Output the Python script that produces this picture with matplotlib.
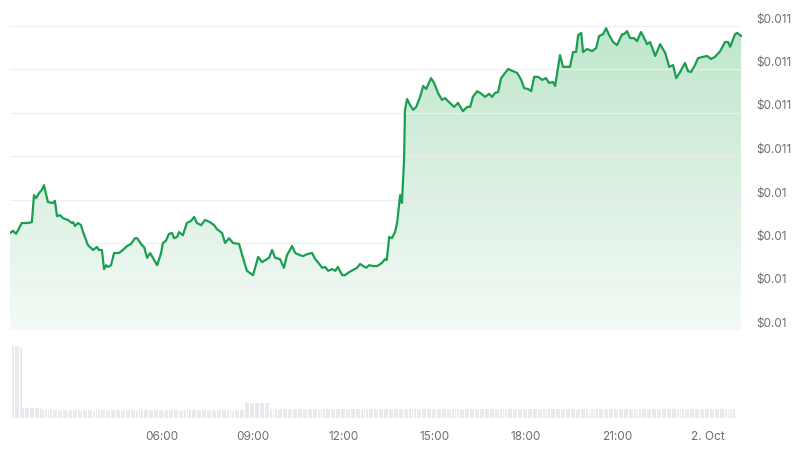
import numpy as np
import matplotlib
matplotlib.use("Agg")
import matplotlib.pyplot as plt
from matplotlib.colors import LinearSegmentedColormap

plt.rcParams['font.family'] = ['Inter', 'DejaVu Sans']

# price trace, hours since midnight of 1 Oct
hours = [0.99, 1.09, 1.19, 1.38, 1.58, 1.71, 1.78, 1.85, 1.95, 2.04,
         2.11, 2.24, 2.41, 2.47, 2.54, 2.64, 2.74, 2.90, 3.03, 3.07,
         3.13, 3.23, 3.33, 3.40, 3.56, 3.73, 3.86, 3.92, 4.02, 4.09,
         4.16, 4.22, 4.32, 4.42, 4.58, 4.71, 4.85, 4.98, 5.11, 5.18,
         5.34, 5.41, 5.51, 5.61, 5.74, 5.84, 5.97, 6.03, 6.13, 6.23,
         6.33, 6.40, 6.50, 6.56, 6.69, 6.82, 6.96, 7.06, 7.15, 7.29,
         7.42, 7.58, 7.72, 7.81, 7.98, 8.08, 8.21, 8.34, 8.54, 8.67,
         8.80, 9.00, 9.17, 9.30, 9.46, 9.53, 9.63, 9.73, 9.89, 10.02,
         10.12, 10.29, 10.39, 10.55, 10.65, 10.81, 10.95, 11.05, 11.14, 11.28,
         11.38, 11.48, 11.61, 11.71, 11.80, 11.94, 12.03, 12.17, 12.30, 12.43,
         12.53, 12.63, 12.73, 12.83, 12.96, 13.09, 13.25, 13.35, 13.41, 13.49,
         13.58, 13.68, 13.75, 13.85, 13.91, 13.98, 14.01, 14.08, 14.18, 14.28,
         14.38, 14.51, 14.61, 14.71, 14.87, 14.97, 15.10, 15.23, 15.33, 15.46,
         15.63, 15.76, 15.92, 16.06, 16.16, 16.25, 16.39, 16.49, 16.65, 16.78,
         16.88, 16.98, 17.08, 17.18, 17.31, 17.41, 17.57, 17.71, 17.84, 17.94,
         18.07, 18.17, 18.27, 18.40, 18.53, 18.66, 18.76, 18.89, 18.96, 19.12,
         19.22, 19.35, 19.45, 19.55, 19.65, 19.72, 19.82, 19.88, 20.01, 20.18,
         20.31, 20.41, 20.54, 20.64, 20.74, 20.87, 21.00, 21.17, 21.23, 21.33,
         21.43, 21.56, 21.66, 21.79, 21.86, 21.99, 22.09, 22.26, 22.42, 22.59,
         22.72, 22.85, 22.95, 23.08, 23.24, 23.34, 23.44, 23.57, 23.67, 23.84,
         23.97, 24.10, 24.23, 24.40, 24.56, 24.66, 24.73, 24.89, 24.96, 25.09]

prices = [0.010323, 0.010328, 0.010321, 0.010346, 0.010346, 0.010348, 0.010410, 0.010403, 0.010415, 0.010422,
          0.010433, 0.010394, 0.010392, 0.010397, 0.010362, 0.010364, 0.010357, 0.010353, 0.010346, 0.010348,
          0.010339, 0.010346, 0.010341, 0.010325, 0.010295, 0.010284, 0.010291, 0.010284, 0.010284, 0.010240,
          0.010249, 0.010245, 0.010249, 0.010277, 0.010277, 0.010284, 0.010293, 0.010298, 0.010311, 0.010311,
          0.010295, 0.010291, 0.010266, 0.010277, 0.010261, 0.010249, 0.010277, 0.010300, 0.010305, 0.010321,
          0.010323, 0.010311, 0.010314, 0.010325, 0.010318, 0.010346, 0.010351, 0.010360, 0.010346, 0.010341,
          0.010353, 0.010348, 0.010341, 0.010332, 0.010323, 0.010300, 0.010311, 0.010300, 0.010298, 0.010266,
          0.010236, 0.010226, 0.010268, 0.010256, 0.010263, 0.010266, 0.010284, 0.010266, 0.010263, 0.010243,
          0.010272, 0.010293, 0.010277, 0.010272, 0.010270, 0.010275, 0.010277, 0.010263, 0.010256, 0.010243,
          0.010245, 0.010236, 0.010240, 0.010236, 0.010245, 0.010226, 0.010226, 0.010233, 0.010238, 0.010243,
          0.010252, 0.010247, 0.010243, 0.010249, 0.010247, 0.010247, 0.010254, 0.010263, 0.010261, 0.010314,
          0.010311, 0.010325, 0.010346, 0.010410, 0.010392, 0.010491, 0.010606, 0.010631, 0.010617, 0.010606,
          0.010613, 0.010636, 0.010661, 0.010654, 0.010679, 0.010668, 0.010645, 0.010629, 0.010633, 0.010624,
          0.010613, 0.010622, 0.010603, 0.010613, 0.010613, 0.010636, 0.010649, 0.010645, 0.010636, 0.010643,
          0.010636, 0.010645, 0.010647, 0.010679, 0.010691, 0.010700, 0.010695, 0.010691, 0.010675, 0.010656,
          0.010654, 0.010649, 0.010682, 0.010682, 0.010675, 0.010679, 0.010668, 0.010670, 0.010661, 0.010732,
          0.010705, 0.010705, 0.010705, 0.010739, 0.010739, 0.010778, 0.010783, 0.010739, 0.010746, 0.010741,
          0.010748, 0.010776, 0.010780, 0.010794, 0.010778, 0.010762, 0.010755, 0.010780, 0.010780, 0.010787,
          0.010771, 0.010771, 0.010764, 0.010785, 0.010776, 0.010757, 0.010762, 0.010730, 0.010757, 0.010737,
          0.010705, 0.010709, 0.010679, 0.010693, 0.010714, 0.010695, 0.010693, 0.010709, 0.010725, 0.010728,
          0.010730, 0.010723, 0.010728, 0.010741, 0.010762, 0.010762, 0.010751, 0.010780, 0.010783, 0.010776]

# 5-minute volume bars starting 01:00 (relative heights)
volumes = [72, 72, 72, 70, 10, 10, 10, 10, 10, 10, 10, 10, 8, 8, 7, 8, 8, 8, 7, 8, 8, 8, 7, 8,
           8, 8, 8, 7, 8, 8, 8, 8, 7, 8, 8, 8, 8, 8, 7, 8, 8, 8, 8, 7, 8, 8, 8, 8,
           8, 7, 8, 8, 8, 8, 8, 7, 8, 8, 8, 8, 7, 8, 8, 8, 8, 8, 7, 8, 8, 8, 8, 8,
           8, 8, 7, 8, 8, 8, 8, 8, 7, 8, 8, 8, 8, 8, 8, 7, 8, 8, 8, 8, 15, 15, 15, 15,
           15, 15, 15, 15, 15, 15, 9, 9, 9, 8, 9, 9, 9, 9, 8, 9, 9, 9, 9, 9, 8, 9,
           9, 9, 9, 8, 9, 9, 9, 9, 9, 8, 9, 9, 9, 9, 8, 9, 9, 9, 9, 9, 8, 9, 9, 9,
           9, 9, 8, 9, 9, 9, 9, 9, 8, 9, 9, 9, 9, 8, 9, 9, 9, 9, 9, 8, 9, 9, 9, 9,
           9, 8, 9, 9, 9, 9, 9, 8, 9, 9, 9, 9, 8, 9, 9, 9, 9, 9, 8, 9, 9, 9, 9, 9,
           9, 9, 8, 9, 9, 9, 9, 9, 8, 9, 9, 9, 9, 8, 9, 9, 9, 9, 9, 8, 9, 9, 9, 9,
           9, 9, 9, 8, 9, 9, 9, 9, 9, 8, 9, 9, 9, 9, 8, 9, 9, 9, 9, 9, 8, 9, 9, 9,
           9, 8, 9, 9, 9, 9, 9, 8, 9, 9, 9, 9, 9, 8, 9, 9, 9, 9, 8, 9, 9, 9, 9, 9,
           9, 9, 9, 9, 8, 9, 9, 9, 9, 9, 8, 9, 9, 9, 9, 8, 9, 9, 9, 9, 9, 8, 9, 9]

price_ticks = [0.0101, 0.0102, 0.0103, 0.0104, 0.0105, 0.0106, 0.0107, 0.0108]
price_labels = ["$0.01", "$0.01", "$0.01", "$0.01", "$0.011", "$0.011", "$0.011", "$0.011"]
time_ticks = [6, 9, 12, 15, 18, 21, 24]
time_labels = ["06:00", "09:00", "12:00", "15:00", "18:00", "21:00", "2. Oct"]

line_col = "#1a9e50"
txt_col = "#6b7078"
xmin, xmax = 0.99, 25.12

fig = plt.figure(figsize=(8, 4.5), dpi=100)
W, H = 800, 450
left, right = 10 / W, 742 / W
ax = fig.add_axes([left, 1 - 330 / H, right - left, (330 - 25.5) / H])
axv = fig.add_axes([left, 1 - 418 / H, right - left, 73 / H])

x = np.array(hours)
y = np.array(prices)
ymin, ymax = price_ticks[0], price_ticks[-1]

# gradient fill under the line
grad_cmap = LinearSegmentedColormap.from_list("g", ["#f4faf6", "#bfe6cc"])
grad = np.linspace(0, 1, 256).reshape(-1, 1)
im = ax.imshow(grad, extent=[xmin, xmax, ymin, ymax], origin="lower",
               aspect="auto", cmap=grad_cmap, zorder=1)
poly = ax.fill_between(x, y, ymin, facecolor="none", edgecolor="none")
im.set_clip_path(poly.get_paths()[0], ax.transData)

ax.plot(x, y, color=line_col, lw=1.6, zorder=3, solid_joinstyle="round")

ax.set_xlim(xmin, xmax)
ax.set_ylim(ymin, ymax)
ax.set_yticks(price_ticks)
ax.set_yticklabels(price_labels)
ax.yaxis.tick_right()
ax.tick_params(axis="y", length=0, pad=10, labelsize=8.5, labelcolor=txt_col)
for lab in ax.get_yticklabels():
    lab.set_verticalalignment("bottom")
ax.set_xticks([])
ax.grid(axis="y", color="#eeeeee", lw=0.8, zorder=0)
for s in ax.spines.values():
    s.set_visible(False)
ax.patch.set_alpha(0)

# volume
vt = 1.06 + np.arange(len(volumes)) / 12.0
axv.bar(vt, volumes, width=0.064, align="edge", color="#e8eaed", linewidth=0)
axv.set_xlim(xmin, xmax)
axv.set_ylim(0, 73)
axv.set_yticks([])
axv.set_xticks(time_ticks)
axv.set_xticklabels(time_labels)
axv.tick_params(axis="x", length=0, pad=9, labelsize=8.5, labelcolor=txt_col)
for s in axv.spines.values():
    s.set_visible(False)

fig.savefig("out.png", dpi=100)
